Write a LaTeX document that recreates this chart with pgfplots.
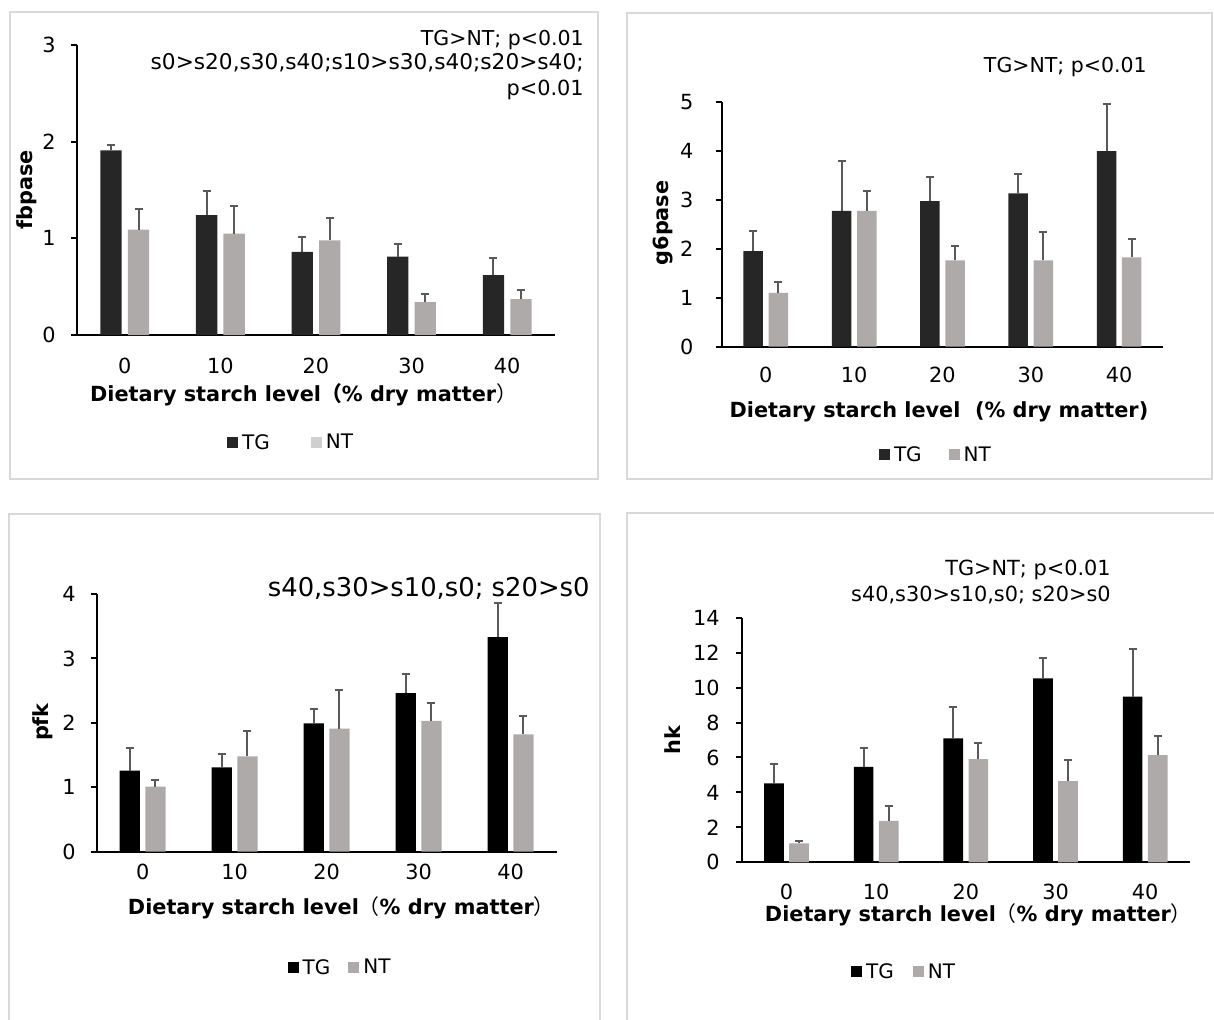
\documentclass[border=0pt]{standalone}
\usepackage{fontspec}
\setmainfont{DejaVu Sans}
\newfontfamily\cjk{Noto Sans CJK SC}
\usepackage{pgfplots}
\pgfplotsset{compat=1.18}
\usepackage{pgfplotstable}
\definecolor{tgA}{HTML}{262626}
\definecolor{tgB}{HTML}{000000}
\definecolor{ntA}{HTML}{AEAAAA}
\definecolor{ntL}{HTML}{D0CECE}
\definecolor{errc}{HTML}{595959}
\definecolor{framec}{HTML}{D9D9D9}

\pgfplotstableread{
x tg tge nt nte
0 1.91 0.06 1.09 0.21
1 1.24 0.25 1.05 0.28
2 0.86 0.15 0.98 0.23
3 0.81 0.13 0.34 0.08
4 0.62 0.18 0.37 0.10
}\fbp
\pgfplotstableread{
x tg tge nt nte
0 1.95 0.41 1.10 0.23
1 2.77 1.02 2.77 0.41
2 2.97 0.50 1.76 0.30
3 3.13 0.39 1.76 0.59
4 3.99 0.96 1.82 0.37
}\gsp
\pgfplotstableread{
x tg tge nt nte
0 1.26 0.35 1.01 0.11
1 1.31 0.20 1.48 0.39
2 1.99 0.23 1.91 0.60
3 2.46 0.30 2.03 0.28
4 3.33 0.53 1.82 0.28
}\pfk
\pgfplotstableread{
x tg tge nt nte
0 4.52 1.09 1.08 0.13
1 5.47 1.09 2.37 0.85
2 7.10 1.79 5.91 0.93
3 10.53 1.18 4.65 1.22
4 9.48 2.73 6.14 1.09
}\hk

\pgfplotsset{
  panel/.style={
    scale only axis, anchor=south west,
    xmin=-0.5, xmax=4.5, ymin=0,
    xtick={0,1,2,3,4}, xticklabels={0,10,20,30,40},
    axis x line*=bottom, axis y line*=left,
    axis line style={-, line width=1.2pt, black},
    tick align=outside, major tick length=3.6pt,
    ytick style={line width=1.2pt, black},
    xtick style={draw=none},
    /pgf/number format/assume math mode=true,
    tick label style={font=\fontsize{12.5}{14}\selectfont, black},
    label style={font=\bfseries\fontsize{12.5}{14}\selectfont},
    xticklabel style={anchor=center, inner sep=0pt},
    yticklabel style={anchor=east, inner sep=0pt},
    legend style={draw=none, fill=none, legend columns=2,
      font=\fontsize{12}{14}\selectfont, anchor=center,
      nodes={inner sep=0pt},
      /tikz/every odd column/.append style={column sep=2.4pt}},
  },
  limg/.style={legend image code/.code={\fill[#1] (0pt,-3.3pt) rectangle (6.6pt,3.3pt);}},
  ebar/.style={error bars/.cd, y dir=plus, y explicit,
    error bar style={line width=1.2pt, color=errc},
    error mark options={rotate=90, line width=1.2pt, color=errc, mark size=2.4pt}},
}

\begin{document}
\begin{tikzpicture}
\useasboundingbox (0,0) rectangle (728.4pt,-611.4pt);
\draw[framec, line width=0.9pt] (6pt,-7.2pt) rectangle (358.8pt,-287.4pt);
\draw[framec, line width=0.9pt] (376.2pt,-7.8pt) rectangle (727.2pt,-287.4pt);
\draw[framec, line width=0.9pt] (5.4pt,-308.4pt) rectangle (360pt,-613pt);
\draw[framec, line width=0.9pt] (376.2pt,-307.8pt) rectangle (730pt,-613pt);

% ---------- panel 1: fbpase
\begin{axis}[panel, at={(46.2pt,-201pt)}, width=286.8pt, height=174pt,
  ybar=3.72pt, bar width=12.78pt,
  ymax=3, ytick={0,1,2,3},
  xticklabel shift=15pt, yticklabel shift=9pt,
  ylabel={fbpase},
  ylabel style={at={(axis description cs:-0.105,0.5)}, anchor=center},
  xlabel={Dietary starch level{\cjk （}\% dry matter{\cjk\mdseries ）}},
  xlabel style={at={(axis description cs:0.474,-0.207)}, anchor=center},
  legend style={at={(0.446,-0.372)},
    /tikz/every even column/.append style={column sep=24.6pt}},
]
\addplot[fill=tgA, draw=none, limg=tgA, ebar]
  table[x=x, y=tg, y error=tge] {\fbp};
\addlegendentry{TG}
\addplot[fill=ntA, draw=none, limg=ntL, ebar]
  table[x=x, y=nt, y error=nte] {\fbp};
\addlegendentry{NT}
\end{axis}

% ---------- panel 2: g6pase
\begin{axis}[panel, at={(433.0pt,-208.0pt)}, width=264.96pt, height=147pt,
  ybar=3.42pt, bar width=11.7pt,
  ymax=5, ytick={0,1,2,3,4,5},
  xticklabel shift=13.4pt, yticklabel shift=13.2pt,
  ylabel={g6pase},
  ylabel style={at={(axis description cs:-0.133,0.505)}, anchor=center},
  xlabel={Dietary starch level\ \ (\% dry matter)},
  xlabel style={at={(axis description cs:0.492,-0.267)}, anchor=center},
  legend style={at={(0.483,-0.442)},
    /tikz/every even column/.append style={column sep=16.2pt}},
]
\addplot[fill=tgA, draw=none, limg=tgA, ebar]
  table[x=x, y=tg, y error=tge] {\gsp};
\addlegendentry{TG}
\addplot[fill=ntA, draw=none, limg=ntA, ebar]
  table[x=x, y=nt, y error=nte] {\gsp};
\addlegendentry{NT}
\end{axis}

% ---------- panel 3: pfk
\begin{axis}[panel, at={(58.0pt,-511.0pt)}, width=276pt, height=154.6pt,
  ybar=3.2pt, bar width=12.2pt,
  ymax=4, ytick={0,1,2,3,4},
  xticklabel shift=8.8pt, yticklabel shift=8.8pt,
  ylabel={pfk},
  ylabel style={at={(axis description cs:-0.117,0.503)}, anchor=center},
  xlabel={Dietary starch level{\cjk\mdseries （}\% dry matter{\cjk\mdseries ）}},
  xlabel style={at={(axis description cs:0.532,-0.218)}, anchor=center},
  legend style={at={(0.527,-0.451)},
    /tikz/every even column/.append style={column sep=10.8pt}},
]
\addplot[fill=tgB, draw=none, limg=tgB, ebar]
  table[x=x, y=tg, y error=tge] {\pfk};
\addlegendentry{TG}
\addplot[fill=ntA, draw=none, limg=ntA, ebar]
  table[x=x, y=nt, y error=nte] {\pfk};
\addlegendentry{NT}
\end{axis}

% ---------- panel 4: hk
\begin{axis}[panel, at={(445.0pt,-517.4pt)}, width=269pt, height=146.8pt,
  ybar=3.24pt, bar width=11.8pt,
  ymax=14, ytick={0,2,4,6,8,10,12,14},
  xticklabel shift=14.4pt, yticklabel shift=9.4pt,
  ylabel={hk},
  ylabel style={at={(axis description cs:-0.153,0.5)}, anchor=center},
  xlabel={Dietary starch level{\cjk\mdseries （}\% dry matter{\cjk\mdseries ）}},
  xlabel style={at={(axis description cs:0.528,-0.215)}, anchor=center},
  legend style={at={(0.36,-0.448)},
    /tikz/every even column/.append style={column sep=11.4pt}},
]
\addplot[fill=tgB, draw=none, limg=tgB, ebar]
  table[x=x, y=tg, y error=tge] {\hk};
\addlegendentry{TG}
\addplot[fill=ntA, draw=none, limg=ntA, ebar]
  table[x=x, y=nt, y error=nte] {\hk};
\addlegendentry{NT}
\end{axis}

% ---------- annotations
\begin{scope}[every node/.style={inner sep=0pt, anchor=base east}]
\node[font=\fontsize{12.3}{14}\selectfont] at (350.4pt,-27pt) {TG>NT; p<0.01};
\node[font=\fontsize{13}{15}\selectfont] at (350.4pt,-41.6pt) {s0>s20,s30,s40;s10>s30,s40;s20>s40;};
\node[font=\fontsize{12.5}{14}\selectfont] at (350.4pt,-57pt) {p<0.01};
\node[font=\fontsize{12.3}{14}\selectfont] at (688.2pt,-43.4pt) {TG>NT; p<0.01};
\node[font=\fontsize{15.5}{17}\selectfont] at (354pt,-357.7pt) {s40,s30>s10,s0; s20>s0};
\node[font=\fontsize{12.5}{14}\selectfont] at (666.6pt,-345.2pt) {TG>NT; p<0.01};
\node[font=\fontsize{12.5}{14}\selectfont] at (666.6pt,-360.8pt) {s40,s30>s10,s0; s20>s0};
\end{scope}
\end{tikzpicture}
\end{document}
